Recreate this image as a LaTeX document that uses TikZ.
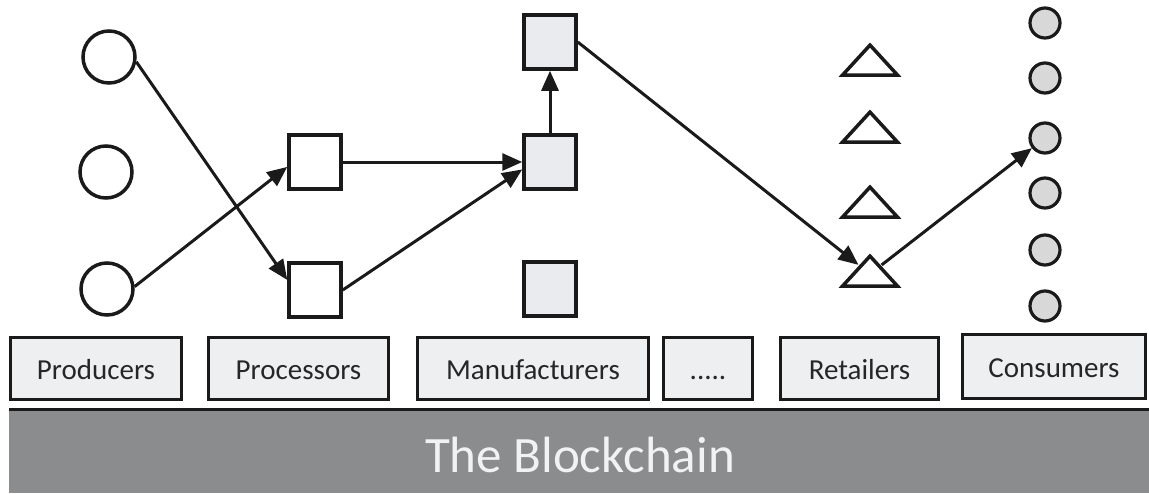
\documentclass[tikz,border=0pt]{standalone}
\usepackage{fontspec}
\setmainfont{Carlito}
\usetikzlibrary{arrows.meta,shapes.geometric}
\definecolor{ink}{HTML}{1A1A1A}
\definecolor{boxfill}{HTML}{EEEFF1}
\definecolor{mfill}{HTML}{E9EBEE}
\definecolor{cfill}{HTML}{D8D8D8}
\definecolor{chain}{HTML}{8B8C8E}
\definecolor{labelink}{HTML}{262626}
\definecolor{chaintext}{HTML}{F2F2F2}
\tikzset{
  producer/.style={circle,draw=ink,line width=3.5pt,fill=white,inner sep=0pt,minimum size=52pt},
  procbox/.style={rectangle,draw=ink,line width=3.5pt,fill=white,inner sep=0pt,minimum width=52pt,minimum height=54pt},
  manbox/.style={procbox,fill=mfill},
  retailer/.style={isosceles triangle,isosceles triangle stretches,shape border rotate=90,draw=ink,line width=3.5pt,fill=white,inner sep=0pt,minimum width=55pt,minimum height=30pt},
  consumer/.style={circle,draw=ink,line width=3.2pt,fill=cfill,inner sep=0pt,minimum size=30pt},
  role/.style={rectangle,draw=ink,line width=3pt,fill=boxfill,inner sep=0pt,minimum height=62pt,text height=23pt,text depth=2pt,text=labelink,font=\fontsize{29}{31}\selectfont},
  flow/.style={draw=ink,line width=3pt,-{Triangle[length=20pt,width=17pt]}}
}
\begin{document}
\begin{tikzpicture}[x=1pt,y=-1pt]
\useasboundingbox (0,0) rectangle (1149,493);

% the blockchain layer
\fill[chain] (9,409) rectangle (1149,493);
\draw[ink,line width=3pt] (9,409) -- (1149,409);
\node[anchor=base,text=chaintext,font=\fontsize{51}{55}\selectfont,inner sep=0pt] (chainlabel) at (580,472) {The Blockchain};

% role boxes
\node[role,minimum width=171pt] (rprod) at (96,368.5) {Producers};
\node[role,minimum width=180pt] (rproc) at (298.5,368.5) {Processors};
\node[role,minimum width=231pt] (rman) at (533,368.5) {Manufacturers};
\node[role,minimum width=89pt] (rdots) at (708,368.5) {.....};
\node[role,minimum width=158pt] (rret) at (859.5,368.5) {Retailers};
\node[role,minimum width=183pt,minimum height=64pt] (rcon) at (1054,366.5) {Consumers};

% producers
\node[producer] (prodA) at (109,57) {};
\node[producer] (prodB) at (106,172) {};
\node[producer] (prodC) at (107,289) {};

% processors
\node[procbox] (procA) at (315,162) {};
\node[procbox] (procB) at (315,290) {};

% manufacturers
\node[manbox] (manA) at (550,42) {};
\node[manbox] (manB) at (550,162) {};
\node[manbox] (manC) at (550,289) {};

% retailers
\node[retailer] (retA) at (870,63) {};
\node[retailer] (retB) at (870,130) {};
\node[retailer] (retC) at (870,205) {};
\node[retailer] (retD) at (870,274) {};

% consumers
\node[consumer] (conA) at (1045,23) {};
\node[consumer] (conB) at (1045,78) {};
\node[consumer] (conC) at (1045,138) {};
\node[consumer] (conD) at (1045,193) {};
\node[consumer] (conE) at (1045,250) {};
\node[consumer] (conF) at (1045,306) {};

% flows along the chain
\draw[flow] (prodA.-10) -- (procB.160);
\draw[flow] (prodC.5) -- (procA.190);
\draw[flow] (procA.east) -- (manB.west);
\draw[flow] (procB.east) -- (manB.195);
\draw[flow] (manB.north) -- (manA.south);
\draw[flow] (manA.east) -- (retD);
\draw[flow] (retD) -- (conC);
\end{tikzpicture}
\end{document}
